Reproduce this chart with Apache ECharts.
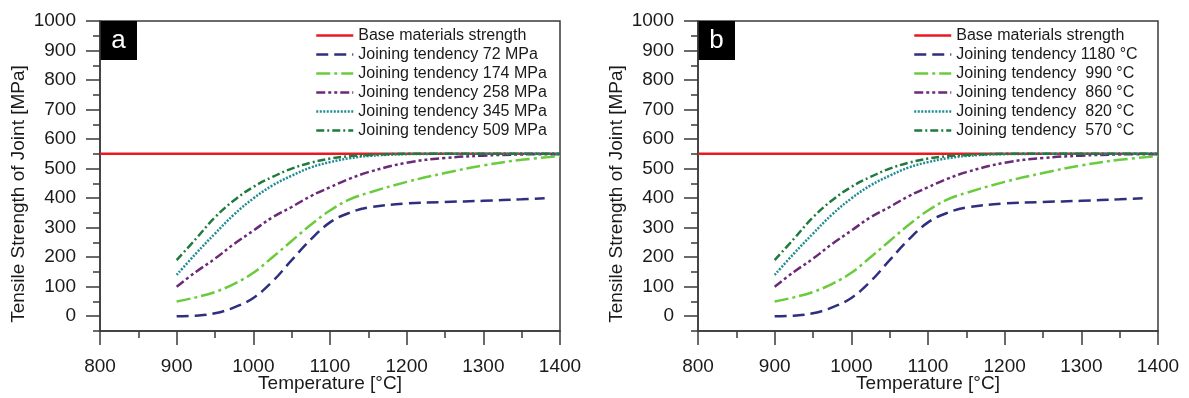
<!DOCTYPE html>
<html>
<head>
<meta charset="utf-8">
<script src="https://cdn.jsdelivr.net/npm/echarts@6/dist/echarts.min.js"></script>
<style>
  html, body { margin: 0; padding: 0; background: #fff; }
  #chart { width: 1189px; height: 398px; }
</style>
</head>
<body>
<div id="chart"></div>
<script>
// Temperature grid [°C] shared by the joining-tendency curves
const temps = [900, 925, 950, 975, 1000, 1025, 1050, 1075, 1100, 1125, 1150, 1200, 1250, 1300, 1350, 1400];
// the lowest curve stops a little earlier
const tempsLow = [900, 925, 950, 975, 1000, 1025, 1050, 1075, 1100, 1125, 1150, 1200, 1250, 1300, 1350, 1380];

// Tensile strength of the joint [MPa]
const curve1 = [0, 2, 10, 30, 62, 118, 190, 260, 318, 350, 368, 382, 387, 391, 396, 400];
const curve2 = [50, 64, 82, 110, 147, 200, 255, 310, 358, 395, 418, 455, 485, 511, 530, 542];
const curve3 = [100, 150, 195, 245, 290, 335, 370, 407, 437, 465, 488, 520, 536, 544, 548, 549];
const curve4 = [140, 212, 280, 345, 399, 443, 476, 504, 522, 535, 543, 549, 550, 550, 550, 550];
const curve5 = [190, 262, 335, 393, 438, 472, 500, 520, 534, 542, 546, 550, 550, 550, 550, 550];

// Base material strength line
const baseTemps = [800, 1400];
const baseStrength = [550, 550];

// Legend names for each panel
const baseName = 'Base materials strength';
const namesA = ['Joining tendency 72 MPa', 'Joining tendency 174 MPa', 'Joining tendency 258 MPa',
                'Joining tendency 345 MPa', 'Joining tendency 509 MPa'];
const namesB = ['Joining tendency 1180 °C', 'Joining tendency  990 °C', 'Joining tendency  860 °C',
                'Joining tendency  820 °C', 'Joining tendency  570 °C'];
const panelLetters = ['a', 'b'];

// Axis ticks
const xTicks = [800, 900, 1000, 1100, 1200, 1300, 1400];
const xMinorTicks = [850, 950, 1050, 1150, 1250, 1350];
const yTicks = [0, 100, 200, 300, 400, 500, 600, 700, 800, 900, 1000];
const yMinorTicks = [-50, 50, 150, 250, 350, 450, 550, 650, 750, 850, 950];

const FONT = "'Liberation Sans', Arial, sans-serif";
const AXIS_COLOR = '#3a3a3a';
const TEXT_COLOR = '#1a1a1a';
const plain = v => String(v);

const curves = [
  { x: tempsLow, y: curve1, color: '#2e2f7e', dash: [12, 6] },
  { x: temps,    y: curve2, color: '#6acb3c', dash: [14, 4, 3, 4] },
  { x: temps,    y: curve3, color: '#6b2a78', dash: [9, 3, 3, 3, 3, 3] },
  { x: temps,    y: curve4, color: '#1f8c92', dash: [2, 1.5] },
  { x: temps,    y: curve5, color: '#1f7a3e', dash: [8, 3, 2, 3] }
];

const zip = (xs, ys) => xs.map((v, i) => [v, ys[i]]);

const grids = [
  { left: 100, top: 21, width: 460, height: 310 },
  { left: 698, top: 21, width: 460, height: 310 }
];

const xAxes = [];
const yAxes = [];
const series = [];
const legends = [];
const graphics = [];

grids.forEach((g, p) => {
  g.show = true;
  g.borderColor = AXIS_COLOR;
  g.borderWidth = 1.5;
  g.backgroundColor = 'transparent';
  g.containLabel = false;
  g.outerBoundsMode = 'none';

  // main x axis with labels and major ticks
  xAxes.push({
    type: 'value', gridIndex: p, min: 800, max: 1400, interval: 100,
    axisLine: { onZero: false, lineStyle: { color: AXIS_COLOR, width: 1.5 } },
    axisTick: { length: 14, lineStyle: { color: AXIS_COLOR, width: 1.5 }, customValues: xTicks },
    axisLabel: { customValues: xTicks, formatter: plain, margin: 26, fontSize: 19, color: TEXT_COLOR, fontFamily: FONT },
    splitLine: { show: false },
    name: 'Temperature [°C]', nameLocation: 'middle', nameGap: 43, nameMoveOverlap: false,
    nameTextStyle: { fontSize: 19, color: TEXT_COLOR, fontFamily: FONT }
  });
  // overlay axis carrying the short minor ticks
  xAxes.push({
    type: 'value', gridIndex: p, min: 800, max: 1400, position: 'bottom',
    axisLine: { show: false, onZero: false },
    axisTick: { length: 7, lineStyle: { color: AXIS_COLOR, width: 1.5 }, customValues: xMinorTicks },
    axisLabel: { show: false },
    splitLine: { show: false }
  });

  yAxes.push({
    type: 'value', gridIndex: p, min: -50, max: 1000,
    axisLine: { show: true, lineStyle: { color: AXIS_COLOR, width: 1.5 } },
    axisTick: { show: true, length: 14, lineStyle: { color: AXIS_COLOR, width: 1.5 }, customValues: yTicks },
    axisLabel: { customValues: yTicks, formatter: plain, margin: 24, fontSize: 19, color: TEXT_COLOR, fontFamily: FONT },
    splitLine: { show: false },
    name: 'Tensile Strength of Joint [MPa]', nameLocation: 'middle', nameGap: 72,
    nameTextStyle: { fontSize: 19, color: TEXT_COLOR, fontFamily: FONT, padding: [0, 36, 0, 0] }
  });
  yAxes.push({
    type: 'value', gridIndex: p, min: -50, max: 1000, position: 'left',
    axisLine: { show: false },
    axisTick: { show: true, length: 7, lineStyle: { color: AXIS_COLOR, width: 1.5 }, customValues: yMinorTicks },
    axisLabel: { show: false },
    splitLine: { show: false }
  });

  const names = p === 0 ? namesA : namesB;

  series.push({
    name: baseName, type: 'line', xAxisIndex: 2 * p, yAxisIndex: 2 * p,
    data: zip(baseTemps, baseStrength), symbol: 'none', silent: true,
    lineStyle: { color: '#e8191f', width: 2.5 }, itemStyle: { color: '#e8191f' }, z: 2
  });
  curves.forEach((c, i) => {
    series.push({
      name: names[i], type: 'line', xAxisIndex: 2 * p, yAxisIndex: 2 * p,
      data: zip(c.x, c.y), symbol: 'none', smooth: 0.4, silent: true,
      lineStyle: { color: c.color, width: 2.5, type: c.dash },
      itemStyle: { color: c.color }, z: 3
    });
  });

  legends.push({
    orient: 'vertical', left: g.left + 215, top: 26,
    data: [baseName].concat(names),
    itemWidth: 37, itemHeight: 12, itemGap: 0, padding: 0,
    itemStyle: { opacity: 0, borderWidth: 0 },
    lineStyle: { width: 2.5 },
    textStyle: { fontSize: 16, lineHeight: 19, color: TEXT_COLOR, fontFamily: FONT }
  });

  // panel letter in a black box at the upper-left corner
  graphics.push({
    type: 'group', left: g.left, top: g.top,
    children: [
      { type: 'rect', shape: { x: 0, y: 0, width: 37, height: 39 }, style: { fill: '#000' } },
      { type: 'text', x: 18.5, y: 19.5,
        style: { text: panelLetters[p], fill: '#fff', fontSize: 26, fontFamily: FONT,
                 align: 'center', verticalAlign: 'middle' } }
    ]
  });
});

const chart = echarts.init(document.getElementById('chart'), null, { renderer: 'canvas' });
chart.setOption({
  animation: false,
  backgroundColor: '#fff',
  grid: grids,
  xAxis: xAxes,
  yAxis: yAxes,
  legend: legends,
  series: series,
  graphic: graphics
});
</script>
</body>
</html>
